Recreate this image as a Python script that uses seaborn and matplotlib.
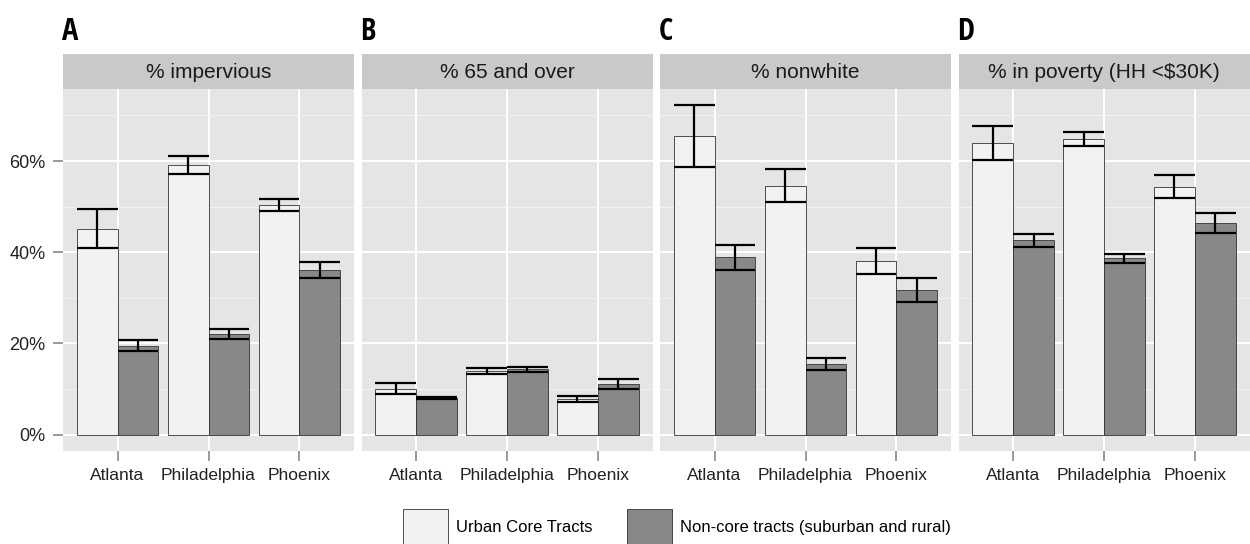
import pandas as pd
import matplotlib
matplotlib.use("Agg")
import matplotlib.pyplot as plt
import seaborn as sns
from matplotlib.patches import Patch

# values (percent)
cities = ["Atlanta", "Philadelphia", "Phoenix"]
metrics = ["% impervious", "% 65 and over", "% nonwhite", "% in poverty (HH <$30K)"]
panel_letters = ["A", "B", "C", "D"]
tracts = ["Urban Core Tracts", "Non-core tracts (suburban and rural)"]

urban_mean = [[45.2, 59.1, 50.4], [10.1, 13.9, 7.85], [65.4, 54.6, 38.0], [64.0, 64.8, 54.4]]
urban_err = [[4.2, 2.0, 1.3], [1.1, 0.7, 0.65], [6.8, 3.6, 2.85], [3.8, 1.6, 2.45]]
noncore_mean = [[19.5, 22.0, 36.1], [8.0, 14.3, 11.1], [38.9, 15.5, 31.7], [42.6, 38.7, 46.4]]
noncore_err = [[1.2, 1.1, 1.7], [0.3, 0.6, 1.1], [2.7, 1.3, 2.7], [1.5, 1.0, 2.1]]

colors = {tracts[0]: "#F2F2F2", tracts[1]: "#888888"}

rows = []
for m, metric in enumerate(metrics):
    for c, city in enumerate(cities):
        rows.append([metric, city, tracts[0], urban_mean[m][c], urban_err[m][c]])
        rows.append([metric, city, tracts[1], noncore_mean[m][c], noncore_err[m][c]])
df = pd.DataFrame(rows, columns=["metric", "city", "tract", "value", "err"])

plt.rcParams["font.family"] = ["Liberation Sans", "DejaVu Sans"]

fig = plt.figure(figsize=(12.5, 5.44), dpi=100)
W, H = 1250, 544

top_hi = (df["value"] + df["err"]).max()
pad = 0.05 * top_hi
ylim = (-pad, top_hi + pad)

lefts = [63, 361.5, 660, 958.5]
pw = 291
ptop, pbot = 89, 451
stop = 54

for i, metric in enumerate(metrics):
    ax = fig.add_axes([lefts[i] / W, 1 - pbot / H, pw / W, (pbot - ptop) / H])
    sub = df[df["metric"] == metric]
    sns.barplot(data=sub, x="city", y="value", hue="tract", order=cities,
                hue_order=tracts, palette=colors, width=0.9, gap=0,
                edgecolor="#333333", linewidth=0.6, ax=ax, legend=False, zorder=3)
    # error bars spanning the bar width
    for k, cont in enumerate(ax.containers):
        t = tracts[k]
        for j, p in enumerate(cont.patches):
            r = sub[(sub["city"] == cities[j]) & (sub["tract"] == t)].iloc[0]
            x0, w = p.get_x(), p.get_width()
            lo, hi = r["value"] - r["err"], r["value"] + r["err"]
            ax.hlines([lo, hi], x0, x0 + w, color="black", lw=1.6, zorder=4)
            ax.vlines(x0 + w / 2, lo, hi, color="black", lw=1.6, zorder=4)

    ax.set_facecolor("#E5E5E5")
    ax.set_xlim(-0.6, 2.6)
    ax.set_ylim(*ylim)
    ax.set_yticks([0, 20, 40, 60])
    ax.set_yticks([10, 30, 50, 70], minor=True)
    ax.grid(True, which="major", color="white", lw=1.4, zorder=0)
    ax.grid(True, which="minor", axis="y", color="#F2F2F2", lw=0.8, zorder=0)
    ax.set_axisbelow(True)
    for s in ax.spines.values():
        s.set_visible(False)
    ax.set_xlabel("")
    ax.set_ylabel("")
    ax.tick_params(axis="both", which="major", length=7, width=1.1, color="#7F7F7F",
                   labelsize=12.5, labelcolor="#222222", pad=5.5)
    ax.tick_params(axis="y", which="major", labelsize=13)
    ax.tick_params(axis="y", which="minor", length=0)
    if i == 0:
        ax.set_yticklabels([f"{v}%" for v in [0, 20, 40, 60]])
    else:
        ax.tick_params(axis="y", which="major", length=0, labelleft=False)

    # facet strip
    sax = fig.add_axes([lefts[i] / W, 1 - ptop / H, pw / W, (ptop - stop) / H])
    sax.set_facecolor("#C9C9C9")
    sax.set_xticks([])
    sax.set_yticks([])
    for s in sax.spines.values():
        s.set_visible(False)
    sax.text(0.5, 0.47, metric, ha="center", va="center", fontsize=15,
             color="#1A1A1A", transform=sax.transAxes)

    fig.text((lefts[i] - 1) / W, 1 - 39.5 / H, panel_letters[i], ha="left", va="baseline",
             fontsize=22, fontweight="bold",
             family=["Open Sans Condensed", "DejaVu Sans"])

handles = [Patch(facecolor=colors[t], edgecolor="#333333", lw=0.6) for t in tracts]
fig.legend(handles, tracts, loc="upper left", bbox_to_anchor=(403 / W, 1 - 509 / H),
           ncol=2, frameon=False, fontsize=12, handlelength=2.7, handleheight=2.9,
           handletextpad=0.45, columnspacing=2.1, borderpad=0, borderaxespad=0)

fig.savefig("out.png", dpi=100)
